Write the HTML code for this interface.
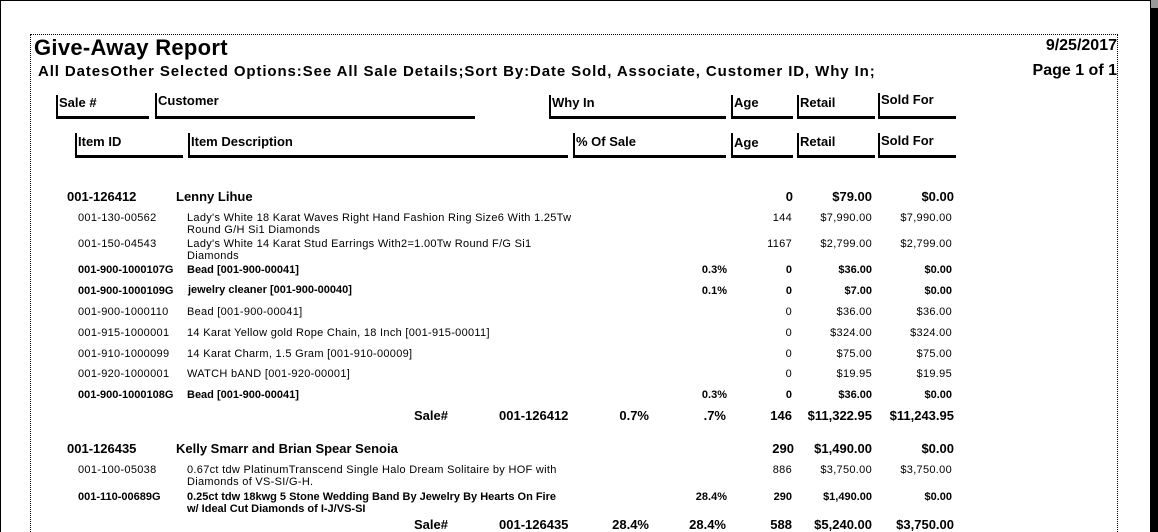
<!DOCTYPE html>
<html><head><meta charset="utf-8"><style>
*{margin:0;padding:0;box-sizing:border-box}
html,body{width:1158px;height:532px;overflow:hidden}
body{background:#fff;font-family:"Liberation Sans",Arial,sans-serif;color:#000;position:relative}
.t{position:absolute;white-space:nowrap;line-height:14px}
.r{text-align:right}
.b{font-weight:bold}
.s{font-size:11px;line-height:12px}
.s:not(.b){letter-spacing:0.3px}
.m{font-size:13px;font-weight:bold}
.hl{position:absolute;height:3px;background:#000}
.hv{position:absolute;width:2px;background:#000}
.h{position:absolute;font-size:13px;font-weight:bold;line-height:14px}
</style></head><body>
<div style="position:absolute;left:0;top:0;width:1151px;height:532px;border-left:1px solid #000;border-top:1px solid #000"></div>
<div style="position:absolute;left:1150px;top:0;width:8px;height:532px;background:#000"></div>
<div style="position:absolute;left:1151px;top:0;width:7px;height:8px;background:#999"></div>
<div style="position:absolute;left:30px;top:34px;width:1088px;height:498px;border:1px dotted #000;border-bottom:none"></div>

<div class="t b" style="left:34px;top:36px;font-size:22px;line-height:24px;letter-spacing:0.3px">Give-Away Report</div>
<div class="t b" style="left:38px;top:63px;font-size:15px;line-height:17px;letter-spacing:0.9px">All DatesOther Selected Options:See All Sale Details;Sort By:Date Sold, Associate, Customer ID, Why In;</div>
<div class="t b r" style="right:41px;top:37px;font-size:16px;line-height:18px">9/25/2017</div>
<div class="t b r" style="right:41px;top:62px;font-size:16px;line-height:18px">Page 1 of 1</div>

<div class="hl" style="left:56px;top:116px;width:93px"></div><div class="hv" style="left:56px;top:95px;height:23px"></div><div class="h" style="left:59px;top:96px">Sale #</div>
<div class="hl" style="left:155px;top:116px;width:320px"></div><div class="hv" style="left:155px;top:93px;height:25px"></div><div class="h" style="left:158px;top:94px">Customer</div>
<div class="hl" style="left:549px;top:116px;width:177px"></div><div class="hv" style="left:549px;top:95px;height:23px"></div><div class="h" style="left:552px;top:96px">Why In</div>
<div class="hl" style="left:731px;top:116px;width:62px"></div><div class="hv" style="left:731px;top:95px;height:23px"></div><div class="h" style="left:734px;top:96px">Age</div>
<div class="hl" style="left:797px;top:116px;width:78px"></div><div class="hv" style="left:797px;top:95px;height:23px"></div><div class="h" style="left:800px;top:96px">Retail</div>
<div class="hl" style="left:878px;top:116px;width:78px"></div><div class="hv" style="left:878px;top:93px;height:25px"></div><div class="h" style="left:881px;top:93px">Sold For</div>

<div class="hl" style="left:75px;top:155px;width:108px"></div><div class="hv" style="left:75px;top:133px;height:24px"></div><div class="h" style="left:78px;top:135px">Item ID</div>
<div class="hl" style="left:188px;top:155px;width:380px"></div><div class="hv" style="left:188px;top:133px;height:24px"></div><div class="h" style="left:191px;top:135px">Item Description</div>
<div class="hl" style="left:573px;top:155px;width:153px"></div><div class="hv" style="left:573px;top:133px;height:24px"></div><div class="h" style="left:576px;top:135px">% Of Sale</div>
<div class="hl" style="left:731px;top:155px;width:62px"></div><div class="hv" style="left:731px;top:133px;height:24px"></div><div class="h" style="left:734px;top:136px">Age</div>
<div class="hl" style="left:797px;top:155px;width:78px"></div><div class="hv" style="left:797px;top:133px;height:24px"></div><div class="h" style="left:800px;top:135px">Retail</div>
<div class="hl" style="left:878px;top:155px;width:78px"></div><div class="hv" style="left:878px;top:133px;height:24px"></div><div class="h" style="left:881px;top:134px">Sold For</div>

<div class="t m" style="left:67px;top:190px">001-126412</div>
<div class="t m" style="left:176px;top:190px">Lenny Lihue</div>
<div class="t m r" style="right:365px;top:190px">0</div>
<div class="t m r" style="right:286px;top:190px">$79.00</div>
<div class="t m r" style="right:204px;top:190px">$0.00</div>

<div class="t s" style="left:78px;top:212px">001-130-00562</div>
<div class="t s" style="left:187px;top:212px">Lady's White 18 Karat Waves Right Hand Fashion Ring Size6 With 1.25Tw<br>Round G/H Si1 Diamonds</div>
<div class="t s r" style="right:366px;top:212px">144</div><div class="t s r" style="right:286px;top:212px">$7,990.00</div><div class="t s r" style="right:206px;top:212px">$7,990.00</div>

<div class="t s" style="left:78px;top:238px">001-150-04543</div>
<div class="t s" style="left:187px;top:238px">Lady's White 14 Karat Stud Earrings With2=1.00Tw Round F/G Si1<br>Diamonds</div>
<div class="t s r" style="right:366px;top:238px">1167</div><div class="t s r" style="right:286px;top:238px">$2,799.00</div><div class="t s r" style="right:206px;top:238px">$2,799.00</div>

<div class="t s b" style="left:78px;top:264px">001-900-1000107G</div><div class="t s b" style="left:187px;top:264px">Bead [001-900-00041]</div>
<div class="t s b r" style="right:431px;top:264px">0.3%</div><div class="t s b r" style="right:366px;top:264px">0</div><div class="t s b r" style="right:286px;top:264px">$36.00</div><div class="t s b r" style="right:206px;top:264px">$0.00</div>

<div class="t s b" style="left:78px;top:285px">001-900-1000109G</div><div class="t s b" style="left:188px;top:284px">jewelry cleaner [001-900-00040]</div>
<div class="t s b r" style="right:431px;top:285px">0.1%</div><div class="t s b r" style="right:366px;top:285px">0</div><div class="t s b r" style="right:286px;top:285px">$7.00</div><div class="t s b r" style="right:206px;top:285px">$0.00</div>

<div class="t s" style="left:78px;top:306px">001-900-1000110</div><div class="t s" style="left:187px;top:306px">Bead [001-900-00041]</div>
<div class="t s r" style="right:366px;top:306px">0</div><div class="t s r" style="right:286px;top:306px">$36.00</div><div class="t s r" style="right:206px;top:306px">$36.00</div>

<div class="t s" style="left:78px;top:327px">001-915-1000001</div><div class="t s" style="left:187px;top:327px">14 Karat Yellow gold Rope Chain, 18 Inch [001-915-00011]</div>
<div class="t s r" style="right:366px;top:327px">0</div><div class="t s r" style="right:286px;top:327px">$324.00</div><div class="t s r" style="right:206px;top:327px">$324.00</div>

<div class="t s" style="left:78px;top:348px">001-910-1000099</div><div class="t s" style="left:187px;top:348px">14 Karat Charm, 1.5 Gram [001-910-00009]</div>
<div class="t s r" style="right:366px;top:348px">0</div><div class="t s r" style="right:286px;top:348px">$75.00</div><div class="t s r" style="right:206px;top:348px">$75.00</div>

<div class="t s" style="left:78px;top:368px">001-920-1000001</div><div class="t s" style="left:187px;top:368px">WATCH bAND [001-920-00001]</div>
<div class="t s r" style="right:366px;top:368px">0</div><div class="t s r" style="right:286px;top:368px">$19.95</div><div class="t s r" style="right:206px;top:368px">$19.95</div>

<div class="t s b" style="left:78px;top:389px">001-900-1000108G</div><div class="t s b" style="left:187px;top:389px">Bead [001-900-00041]</div>
<div class="t s b r" style="right:431px;top:389px">0.3%</div><div class="t s b r" style="right:366px;top:389px">0</div><div class="t s b r" style="right:286px;top:389px">$36.00</div><div class="t s b r" style="right:206px;top:389px">$0.00</div>

<div class="t m" style="left:414px;top:409px">Sale#</div><div class="t m" style="left:499px;top:409px">001-126412</div>
<div class="t m r" style="right:509px;top:409px">0.7%</div><div class="t m r" style="right:432px;top:409px">.7%</div>
<div class="t m r" style="right:366px;top:409px">146</div><div class="t m r" style="right:286px;top:409px">$11,322.95</div><div class="t m r" style="right:204px;top:409px">$11,243.95</div>

<div class="t m" style="left:67px;top:442px">001-126435</div>
<div class="t m" style="left:176px;top:442px">Kelly Smarr and Brian Spear Senoia</div>
<div class="t m r" style="right:364px;top:442px">290</div><div class="t m r" style="right:286px;top:442px">$1,490.00</div><div class="t m r" style="right:204px;top:442px">$0.00</div>

<div class="t s" style="left:78px;top:464px">001-100-05038</div>
<div class="t s" style="left:187px;top:464px">0.67ct tdw PlatinumTranscend Single Halo Dream Solitaire by HOF with<br>Diamonds of VS-SI/G-H.</div>
<div class="t s r" style="right:366px;top:464px">886</div><div class="t s r" style="right:286px;top:464px">$3,750.00</div><div class="t s r" style="right:206px;top:464px">$3,750.00</div>

<div class="t s b" style="left:78px;top:491px">001-110-00689G</div>
<div class="t s b" style="left:187px;top:491px">0.25ct tdw 18kwg 5 Stone Wedding Band By Jewelry By Hearts On Fire<br>w/ Ideal Cut Diamonds of I-J/VS-SI</div>
<div class="t s b r" style="right:431px;top:491px">28.4%</div><div class="t s b r" style="right:366px;top:491px">290</div><div class="t s b r" style="right:286px;top:491px">$1,490.00</div><div class="t s b r" style="right:206px;top:491px">$0.00</div>

<div class="t m" style="left:414px;top:518px">Sale#</div><div class="t m" style="left:499px;top:518px">001-126435</div>
<div class="t m r" style="right:509px;top:518px">28.4%</div><div class="t m r" style="right:432px;top:518px">28.4%</div>
<div class="t m r" style="right:366px;top:518px">588</div><div class="t m r" style="right:286px;top:518px">$5,240.00</div><div class="t m r" style="right:204px;top:518px">$3,750.00</div>
</body></html>
